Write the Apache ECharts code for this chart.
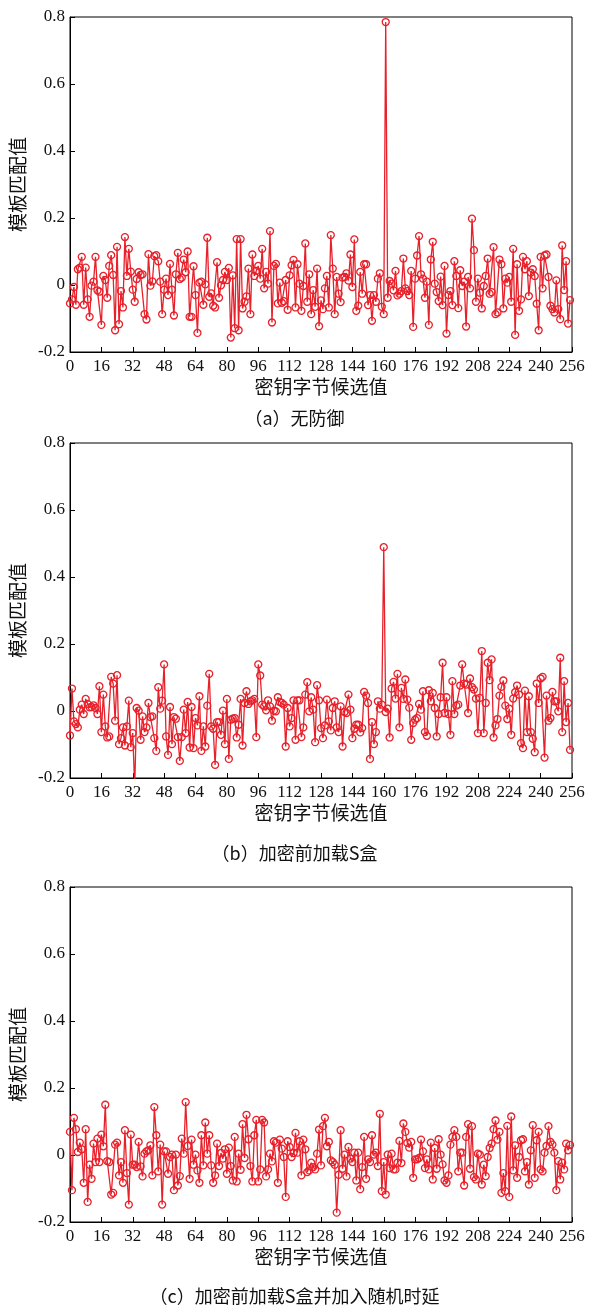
<!DOCTYPE html>
<html><head><meta charset="utf-8">
<script src="https://cdn.jsdelivr.net/npm/echarts@6/dist/echarts.min.js"></script>
<style>html,body{margin:0;padding:0;background:#fff}#c{width:589px;height:1305px}</style>
</head><body><div id="c"></div>
<script>
// (a) 无防御
const panelA = [
-0.055,-0.043,-0.006,-0.059,0.047,0.052,0.084,-0.059,0.052,-0.043,-0.095,-0.002,0.010,0.084,-0.016,-0.020,
-0.119,0.027,0.015,-0.038,0.057,0.089,0.030,-0.135,0.114,-0.117,-0.018,-0.067,0.143,0.027,0.108,0.040,
-0.014,-0.050,0.018,0.038,0.030,0.032,-0.087,-0.103,0.092,-0.002,0.011,0.086,0.089,0.071,0.010,-0.087,
-0.014,0.019,-0.030,0.063,-0.014,-0.091,0.032,0.096,0.018,0.022,0.076,0.038,0.100,-0.095,-0.095,0.056,
-0.030,-0.143,0.007,0.010,-0.059,0.002,0.141,-0.035,-0.025,-0.062,-0.067,0.068,-0.038,-0.001,0.015,0.039,
0.015,0.051,-0.157,0.029,-0.129,0.137,-0.135,0.137,-0.070,-0.050,-0.034,0.049,-0.087,0.091,0.027,0.042,
0.057,0.019,0.108,-0.010,0.039,0.004,0.161,-0.112,0.057,0.063,-0.055,0.007,-0.053,-0.048,0.015,-0.074,
0.029,0.059,0.075,-0.067,0.062,0.004,-0.077,-0.003,0.124,-0.050,0.032,-0.087,-0.015,-0.065,0.049,-0.123,
-0.046,-0.072,-0.010,0.027,-0.067,0.149,0.049,-0.087,0.024,-0.026,-0.051,0.022,0.024,0.035,0.013,0.091,
-0.006,0.136,-0.077,-0.062,0.039,-0.026,0.062,0.062,-0.060,-0.030,-0.107,-0.030,-0.050,0.019,0.035,-0.065,
-0.087,0.785,-0.038,0.012,0.004,-0.016,0.042,-0.031,-0.026,-0.018,0.079,-0.010,-0.018,-0.030,0.042,-0.125,
0.019,0.088,0.146,0.032,0.019,-0.038,0.010,-0.119,0.076,0.129,0.004,-0.021,-0.048,0.025,-0.060,0.057,
-0.145,-0.030,-0.018,-0.060,0.071,0.027,-0.069,0.044,-0.003,0.010,-0.124,0.024,-0.010,0.198,0.104,-0.050,
0.019,-0.023,-0.070,-0.003,0.027,0.079,-0.026,-0.021,0.113,-0.087,-0.082,0.076,0.062,-0.070,0.019,0.007,
0.024,-0.050,0.108,-0.149,0.062,-0.077,-0.043,0.084,0.047,0.071,-0.033,0.037,0.047,0.027,-0.056,-0.135,
0.084,-0.010,0.088,0.091,0.024,-0.062,-0.072,-0.082,0.014,-0.072,-0.102,0.118,-0.015,0.071,-0.115,-0.045
];
// (b) 加密前加载S盒
const panelB = [
-0.073,0.067,-0.031,-0.039,-0.049,0.004,0.019,-0.009,0.036,0.021,0.011,0.012,0.017,0.009,-0.009,0.074,
-0.063,0.049,-0.046,-0.079,-0.076,0.102,0.082,-0.029,0.107,-0.099,-0.081,-0.049,-0.103,-0.046,0.031,-0.108,
-0.066,-0.230,0.009,0.001,-0.086,-0.016,-0.063,-0.049,0.024,-0.018,-0.016,-0.081,-0.119,0.071,0.007,0.031,
0.139,-0.076,-0.131,0.012,-0.099,-0.018,-0.023,-0.078,-0.149,-0.078,0.004,-0.066,0.027,-0.109,0.012,-0.111,
-0.021,-0.043,0.044,-0.119,-0.046,-0.106,0.016,0.111,-0.046,-0.053,-0.161,-0.033,-0.033,-0.071,0.001,-0.099,
0.036,-0.143,-0.026,-0.023,-0.021,-0.079,-0.041,0.036,-0.103,0.024,0.059,0.021,0.029,0.032,0.036,-0.078,
0.139,0.106,0.019,0.014,0.002,0.032,0.014,-0.029,0.001,-0.001,0.041,0.027,0.024,0.019,-0.106,0.009,
-0.046,-0.021,0.032,-0.086,0.032,0.032,-0.078,-0.049,0.049,0.086,-0.001,0.041,0.004,-0.093,0.077,0.032,
-0.051,-0.081,-0.043,0.034,-0.031,-0.058,0.009,0.029,-0.049,-0.063,0.014,-0.106,-0.003,-0.006,0.049,0.004,
-0.081,-0.053,-0.041,-0.041,-0.064,-0.051,0.057,0.046,0.024,-0.143,-0.033,-0.099,-0.063,0.029,0.007,0.019,
0.489,-0.003,0.007,-0.079,0.067,0.087,0.037,0.111,-0.049,0.069,0.036,0.094,0.034,0.010,-0.086,-0.036,
-0.026,-0.021,0.021,0.004,0.059,-0.063,-0.074,0.062,0.029,0.054,0.009,-0.076,-0.009,0.041,0.144,-0.006,
0.041,-0.009,-0.071,0.089,-0.009,0.016,0.019,0.076,0.139,0.082,0.079,-0.006,0.097,0.071,0.064,0.037,
-0.066,0.039,0.179,-0.066,0.024,0.144,0.092,0.154,-0.079,-0.043,-0.024,0.046,0.072,0.091,0.016,-0.024,
0.007,-0.071,0.037,0.056,0.076,0.049,-0.096,-0.111,0.061,-0.063,0.044,-0.063,-0.083,-0.123,0.082,0.024,
0.097,0.102,-0.139,0.046,-0.029,-0.021,0.057,0.029,0.029,-0.001,0.159,-0.063,0.089,-0.033,0.024,-0.116
];
// (c) 加密前加载S盒并加入随机时延
const panelC = [
0.069,-0.105,0.111,0.077,0.009,0.037,0.017,-0.083,0.077,-0.140,-0.029,-0.071,0.034,-0.021,0.049,-0.021,
0.061,0.026,0.150,-0.018,-0.021,-0.118,-0.113,0.031,0.037,-0.061,-0.021,-0.083,0.074,-0.054,-0.148,0.061,
-0.029,-0.029,-0.036,0.039,-0.034,-0.064,0.004,0.011,0.014,0.029,-0.061,0.143,0.059,-0.049,0.031,-0.148,
0.011,0.011,-0.056,-0.006,0.001,-0.105,0.001,-0.091,-0.063,0.049,0.004,0.158,0.027,-0.071,0.046,-0.029,
0.001,-0.046,-0.083,0.059,-0.031,0.097,0.004,0.059,-0.031,-0.083,-0.061,0.034,-0.033,0.006,-0.011,0.017,
-0.056,0.022,-0.033,-0.076,0.054,-0.079,0.004,-0.044,0.092,-0.009,0.120,0.047,-0.033,-0.079,0.059,0.105,
-0.079,-0.043,0.105,0.097,-0.064,-0.043,0.004,-0.019,0.041,0.037,-0.083,0.046,0.019,-0.006,-0.125,0.041,
0.024,-0.006,0.006,0.066,0.007,0.041,-0.061,0.046,0.017,-0.051,-0.046,-0.023,-0.036,-0.043,0.004,0.076,
-0.031,0.086,0.111,0.026,0.039,-0.016,-0.021,-0.029,-0.172,-0.059,0.074,-0.041,0.001,-0.064,0.024,-0.011,
-0.021,0.007,-0.076,0.007,-0.102,-0.036,0.054,-0.071,-0.013,-0.021,0.059,0.001,0.007,-0.033,0.123,-0.108,
-0.021,-0.118,0.001,-0.039,0.004,-0.043,-0.043,-0.023,0.042,-0.024,0.094,0.069,0.036,0.022,0.039,-0.068,
-0.013,-0.013,-0.009,0.046,0.011,-0.039,-0.013,-0.043,0.037,-0.073,0.021,-0.041,0.047,0.001,-0.028,-0.076,
-0.083,-0.061,0.031,0.054,0.074,0.054,-0.049,0.007,0.007,-0.091,0.054,0.092,-0.041,0.086,-0.066,-0.073,
0.004,0.001,-0.088,-0.029,-0.063,-0.006,0.021,0.034,0.077,0.103,0.046,0.069,-0.113,-0.054,-0.108,0.087,
-0.125,0.115,-0.046,0.029,-0.068,-0.006,0.044,0.047,-0.049,-0.021,-0.088,0.014,0.089,-0.068,0.044,0.069,
-0.043,-0.049,0.007,0.027,0.086,0.039,0.031,0.007,-0.105,-0.018,-0.073,-0.023,-0.043,0.034,0.014,0.030
];
const captions = ['（a）无防御', '（b）加密前加载S盒', '（c）加密前加载S盒并加入随机时延'];
const xName = '密钥字节候选值';
const yName = '模板匹配值';

const panels = [panelA, panelB, panelC];
const gridTops = [17, 443, 887];
const gridH = 335;
const captionTops = [404, 839, 1282];
const RED = '#e8202a';
const NUM_FONT = '"Liberation Serif", "DejaVu Serif", serif';
const CJK_FONT = '"Noto Sans CJK SC"';

const grid = [], xAxis = [], yAxis = [], series = [], title = [];
panels.forEach((vals, i) => {
  grid.push({left: 70, right: 17, top: gridTops[i], height: gridH, show: true, borderColor: '#000', borderWidth: 1});
  xAxis.push({
    gridIndex: i, type: 'value', min: 0, max: 256, interval: 16,
    axisLine: {show: true, onZero: false, lineStyle: {color: '#000', width: 1}},
    axisTick: {show: true, inside: true, length: 5, lineStyle: {color: '#000'}},
    axisLabel: {margin: 6, color: '#111', fontSize: 17, fontFamily: NUM_FONT},
    splitLine: {show: false},
    name: xName, nameLocation: 'middle', nameGap: 25,
    nameTextStyle: {fontSize: 19, fontFamily: CJK_FONT, color: '#111'}
  });
  yAxis.push({
    gridIndex: i, type: 'value', min: -0.2, max: 0.8, interval: 0.2,
    axisLine: {show: true, onZero: false, lineStyle: {color: '#000', width: 1}},
    axisTick: {show: true, inside: true, length: 5, lineStyle: {color: '#000'}},
    axisLabel: {margin: 5, color: '#111', fontSize: 17, fontFamily: NUM_FONT,
      formatter: v => (Math.abs(v) < 1e-9 ? '0' : v.toFixed(1))},
    splitLine: {show: false},
    name: yName, nameLocation: 'middle', nameGap: 36, nameRotate: 90,
    nameTextStyle: {fontSize: 19, fontFamily: CJK_FONT, color: '#111'}
  });
  series.push({
    type: 'line', xAxisIndex: i, yAxisIndex: i,
    data: vals.map((v, k) => [k, v]),
    symbol: 'circle', symbolSize: 7, showAllSymbol: true, clip: true,
    lineStyle: {color: RED, width: 1.3},
    itemStyle: {color: 'rgba(255,255,255,0)', borderColor: RED, borderWidth: 1.3},
    emphasis: {disabled: true}
  });
  title.push({text: captions[i], left: 'center', top: captionTops[i],
    textStyle: {fontSize: 18, fontWeight: 'normal', fontFamily: CJK_FONT, color: '#111'}});
});

const chart = echarts.init(document.getElementById('c'), null, {renderer: 'canvas'});
chart.setOption({animation: false, backgroundColor: '#fff', title, grid, xAxis, yAxis, series});
</script></body></html>
